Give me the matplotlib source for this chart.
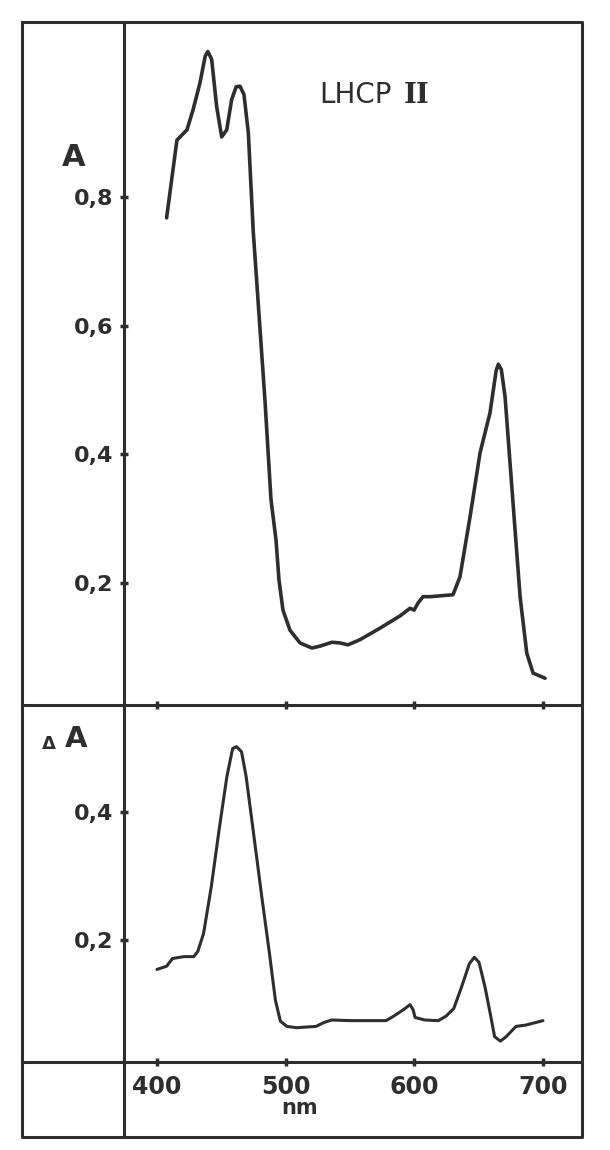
import numpy as np
import matplotlib
matplotlib.use("Agg")
import matplotlib.pyplot as plt
from matplotlib.ticker import FuncFormatter

# absorption spectrum (top panel)
wl_a = [407.5, 415.5, 423.3, 428, 433.4, 437.5, 439.5, 442.5, 446.4, 450.3, 454.2, 458, 461.5,
        464.5, 467.6, 471, 474.8, 478.5, 483.9, 488.6, 492.5, 494.8, 497.9, 503.3, 511.1, 520.4,
        526.7, 536, 542.2, 548.4, 557.7, 573.3, 588.8, 596.6, 599.7, 602.8, 606.7, 612.1,
        630, 635.4, 643.2, 651, 658.7, 663.5, 665.2, 667.5, 670.4, 674.3, 678.2, 682.1, 687.3,
        692.2, 701.5]
absorb = [0.768, 0.889, 0.905, 0.936, 0.978, 1.020, 1.027, 1.015, 0.941, 0.894, 0.905, 0.952,
          0.972, 0.973, 0.960, 0.900, 0.747, 0.640, 0.484, 0.329, 0.266, 0.204, 0.157, 0.126,
          0.106, 0.098, 0.101, 0.107, 0.106, 0.103, 0.111, 0.129, 0.148, 0.160, 0.157, 0.168,
          0.178, 0.178, 0.181, 0.209, 0.302, 0.402, 0.464, 0.530, 0.540, 0.532, 0.490, 0.386,
          0.282, 0.178, 0.090, 0.059, 0.051]

# difference spectrum (bottom panel)
wl_d = [400, 407.5, 412, 421, 428.6, 431.7, 436.2, 442.2, 448.2, 454.3, 458.8, 461.8, 465.7,
        469.3, 475.4, 481.4, 487.4, 492, 495.9, 501, 508.5, 523.6, 529.6, 535.7, 550.7, 577.9,
        583.9, 591.4, 596.6, 599, 600.5, 608, 618.6, 624.6, 630.6, 636.7, 642.7, 646.6, 650.2,
        654.8, 659.3, 662.3, 666.8, 671.3, 678.9, 686.4, 699.9]
delta = [0.154, 0.159, 0.171, 0.174, 0.174, 0.182, 0.210, 0.283, 0.371, 0.455, 0.499, 0.502,
         0.494, 0.455, 0.361, 0.268, 0.179, 0.106, 0.073, 0.065, 0.063, 0.065, 0.071, 0.075,
         0.074, 0.074, 0.081, 0.091, 0.099, 0.091, 0.079, 0.075, 0.074, 0.081, 0.093, 0.127,
         0.163, 0.173, 0.165, 0.127, 0.081, 0.049, 0.042, 0.049, 0.065, 0.067, 0.074]

x_ticks = [400, 500, 600, 700]
a_ticks = [0.2, 0.4, 0.6, 0.8]
d_ticks = [0.2, 0.4]

ink = "#2e2e2e"
W, H = 610, 1150
fig = plt.figure(figsize=(W / 100, H / 100), dpi=100)
fig.patch.set_facecolor("white")

# frame drawn in pixel coords
bg = fig.add_axes([0, 0, 1, 1])
bg.set_xlim(0, W)
bg.set_ylim(H, 0)
bg.axis("off")
L, R, T, B = 22, 582, 22, 1137
xv, yh1, yh2 = 124, 705, 1062
lw_frame = 2.2
bg.plot([L, R, R, L, L], [T, T, B, B, T], color=ink, lw=lw_frame, solid_joinstyle="round")
bg.plot([xv, xv], [T, B], color=ink, lw=lw_frame)
bg.plot([L, R], [yh1, yh1], color=ink, lw=lw_frame)
bg.plot([L, R], [yh2, yh2], color=ink, lw=lw_frame)

comma = FuncFormatter(lambda v, p: f"{v:.1f}".replace(".", ","))

ax1 = fig.add_axes([xv / W, 1 - yh1 / H, (R - xv) / W, (yh1 - T) / H])
ax2 = fig.add_axes([xv / W, 1 - yh2 / H, (R - xv) / W, (yh2 - yh1) / H])

ax1.plot(wl_a, absorb, color=ink, lw=2.6, solid_joinstyle="round", solid_capstyle="round")
ax2.plot(wl_d, delta, color=ink, lw=2.2, solid_joinstyle="round", solid_capstyle="round")

ax1.set_ylim(0.0093, 1.073)
ax2.set_ylim(0.0094, 0.567)
ax1.set_yticks(a_ticks)
ax2.set_yticks(d_ticks)

for ax in (ax1, ax2):
    ax.patch.set_alpha(0)
    ax.set_xlim(374.4, 730.2)
    ax.set_xticks(x_ticks)
    for s in ax.spines.values():
        s.set_visible(False)
    ax.yaxis.set_major_formatter(comma)
    ax.tick_params(direction="inout", length=6, width=2.5, color=ink,
                   labelsize=16, labelcolor=ink, pad=5)
    for lab in ax.get_yticklabels():
        lab.set_fontweight("bold")

ax1.tick_params(axis="x", labelbottom=False)
ax2.tick_params(axis="x", labelsize=17, pad=6)
for lab in ax2.get_xticklabels():
    lab.set_fontweight("bold")

bg.text(300, 1108, "nm", ha="center", va="center", fontsize=15, fontweight="bold", color=ink)
bg.text(74, 166, "A", ha="center", va="baseline", fontsize=22, fontweight="bold", color=ink)
bg.text(49, 749, "\u0394", ha="center", va="baseline", fontsize=13, fontweight="bold", color=ink)
bg.text(76, 747, "A", ha="center", va="baseline", fontsize=21, fontweight="bold", color=ink)
bg.text(319, 103, "LHCP", ha="left", va="baseline", fontsize=20, color=ink)
bg.text(404, 103, "II", ha="left", va="baseline", fontsize=20, fontweight="bold",
        family="DejaVu Serif", color=ink)

fig.savefig("out.png", dpi=100, facecolor="white")
